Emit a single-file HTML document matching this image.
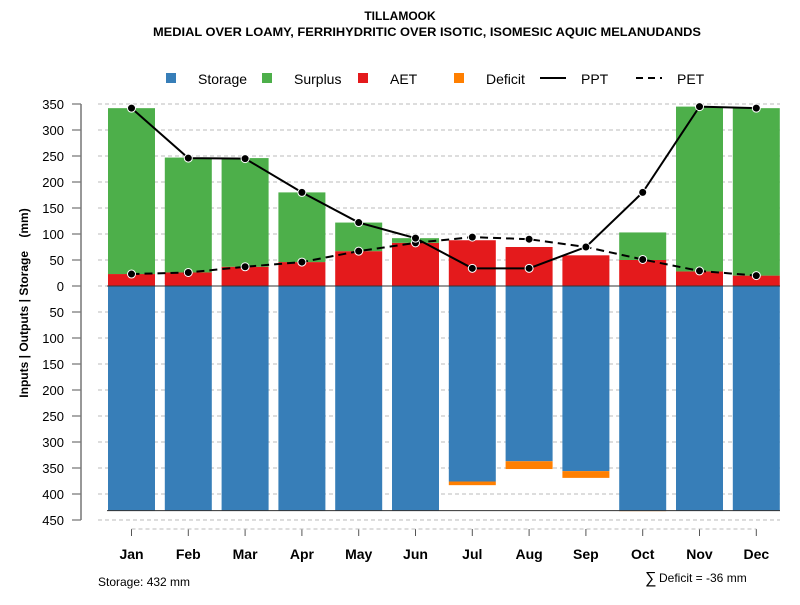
<!DOCTYPE html>
<html><head><meta charset="utf-8"><style>
body{margin:0;background:#fff;font-family:"Liberation Sans",sans-serif}
</style></head><body>
<svg id="c" width="800" height="600" xmlns="http://www.w3.org/2000/svg" font-family="Liberation Sans, sans-serif">
<text x="400" y="20" text-anchor="middle" font-size="12" font-weight="bold">TILLAMOOK</text>
<text x="427" y="36" text-anchor="middle" font-size="12" font-weight="bold" textLength="548" lengthAdjust="spacingAndGlyphs">MEDIAL OVER LOAMY, FERRIHYDRITIC OVER ISOTIC, ISOMESIC AQUIC MELANUDANDS</text>
<g font-size="14">
<rect x="166" y="73" width="10" height="10" fill="#377eb8"/>
<text x="198" y="84">Storage</text>
<rect x="262" y="73" width="10" height="10" fill="#4daf4a"/>
<text x="294" y="84">Surplus</text>
<rect x="358" y="73" width="10" height="10" fill="#e41a1c"/>
<text x="390" y="84">AET</text>
<rect x="454" y="73" width="10" height="10" fill="#ff7f00"/>
<text x="486" y="84">Deficit</text>
<line x1="540" y1="78" x2="566" y2="78" stroke="#000" stroke-width="2"/>
<text x="581" y="84">PPT</text>
<line x1="636" y1="78" x2="662" y2="78" stroke="#000" stroke-width="2" stroke-dasharray="7,5"/>
<text x="677" y="84">PET</text>
</g>
<text transform="translate(28,303) rotate(-90)" text-anchor="middle" font-size="12" font-weight="bold" style="white-space:pre">Inputs | Outputs | Storage    (mm)</text>
<g id="plot"></g>
<text x="98" y="586" font-size="12">Storage: 432 mm</text>
<text x="645" y="583" font-size="16">∑</text>
<text x="659" y="582" font-size="12">Deficit = -36 mm</text>
</svg>
<script>
const months=["Jan","Feb","Mar","Apr","May","Jun","Jul","Aug","Sep","Oct","Nov","Dec"];
const ppt=[342,246,245,180,122,92,34,34,75,180,345,342];
const pet=[23,26,37,46,67,83,94,90,75,51,29,20];
const aet=[23,26,37,46,67,83,88,75,59,50,28,20];
const surplus=[319,221,209,134,55,9,0,0,0,53,317,322];
const storage=[432,432,432,432,432,432,376,337,356,432,432,432];
const deficit=[0,0,0,0,0,0,7,15,13,1,0,0];
const yTicks=[350,300,250,200,150,100,50,0,-50,-100,-150,-200,-250,-300,-350,-400,-450];
const maxStorage=432;
const NS="http://www.w3.org/2000/svg";
const g=document.getElementById('plot');
const y=v=>286-v*0.52;
const xc=i=>131.5+i*56.8;
const bw=47;
function el(t,a){const e=document.createElementNS(NS,t);for(const k in a)e.setAttribute(k,a[k]);g.appendChild(e);return e;}
yTicks.forEach(t=>{
  let l=el('line',{x1:98,x2:780,y1:y(t),y2:y(t),stroke:'#bbb','stroke-dasharray':'4,3'});
  
  
  let tk=el('line',{x1:72,x2:81,y1:y(t),y2:y(t),stroke:'#555'});
  
  
  let tx=el('text',{x:64,y:y(t)+5,'text-anchor':'end','font-size':13});
  tx.textContent=Math.abs(t);
  
  
});
let ax=el('line',{x1:81,x2:81,y1:y(350),y2:y(-450),stroke:'#777','stroke-width':1.5});


months.forEach((m,i)=>{
  const x0=xc(i)-bw/2;
  let r=el('rect',{x:x0,y:y(0),width:bw,height:y(-storage[i])-y(0),fill:'#377eb8'});
  
  
  if(deficit[i]>0){
    let d=el('rect',{x:x0,y:y(-storage[i]),width:bw,height:deficit[i]*0.52,fill:'#ff7f00'});
    
    
  }
  let a=el('rect',{x:x0,y:y(aet[i]),width:bw,height:aet[i]*0.52,fill:'#e41a1c'});
  
  
  if(surplus[i]>0){
    let s=el('rect',{x:x0,y:y(aet[i]+surplus[i]),width:bw,height:surplus[i]*0.52,fill:'#4daf4a'});
    
    
  }
  let xt=el('line',{x1:xc(i),x2:xc(i),y1:529,y2:536,stroke:'#555'});
  
  
  let lb=el('text',{x:xc(i),y:559,'text-anchor':'middle','font-size':14,'font-weight':'bold'});
  lb.textContent=m;
  
  
});
let xa=el('line',{x1:131.5,x2:xc(11),y1:529,y2:529,stroke:'#bbb','stroke-dasharray':'4,3'});


let zl=el('line',{x1:107,x2:780,y1:y(0),y2:y(0),stroke:'#333'});


let sl=el('line',{x1:107,x2:780,y1:y(-maxStorage),y2:y(-maxStorage),stroke:'#333'});


function series(vals,name,dash){
  let p=el('polyline',{points:vals.map((v,i)=>xc(i)+','+y(v)).join(' '),fill:'none',stroke:'#000','stroke-width':2,'stroke-dasharray':dash||'none'});
  
  
  vals.forEach((v,i)=>{
    let c=el('circle',{cx:xc(i),cy:y(v),r:4,fill:'#000',stroke:'#fff','stroke-width':1});
    
    
  });
}
series(pet,'pet','8,5');
series(ppt,'ppt');
</script>
</body></html>
